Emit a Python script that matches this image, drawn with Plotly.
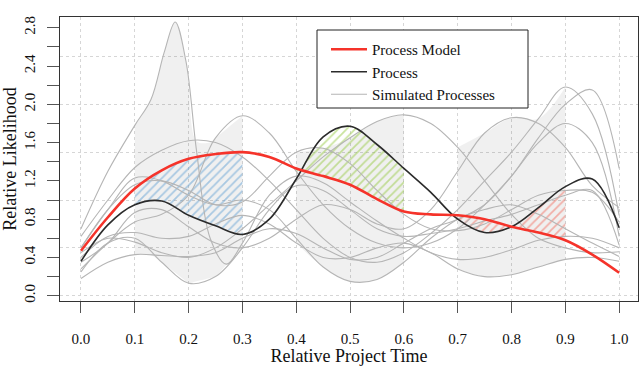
import numpy as np
import plotly.graph_objects as go

# ---------------- data ----------------
x_grid = [0.0, 0.05, 0.1, 0.15, 0.2, 0.25, 0.3, 0.35, 0.4, 0.45, 0.5,
          0.55, 0.6, 0.65, 0.7, 0.75, 0.8, 0.85, 0.9, 0.95, 1.0]

process_model = [0.47, 0.82, 1.12, 1.31, 1.43, 1.48, 1.50, 1.45, 1.33, 1.25, 1.16,
                 1.01, 0.88, 0.85, 0.84, 0.80, 0.72, 0.66, 0.58, 0.43, 0.24]
process = [0.36, 0.74, 0.95, 0.99, 0.84, 0.73, 0.64, 0.80, 1.22, 1.66, 1.77,
           1.58, 1.33, 1.08, 0.80, 0.66, 0.72, 0.92, 1.14, 1.22, 0.71]

# simulated process with the sharp spike (own knots)
spike_x = [0.0, 0.05, 0.1, 0.13, 0.155, 0.175, 0.195, 0.215, 0.24, 0.27, 0.3,
           0.35, 0.4, 0.45, 0.5, 0.55, 0.6, 0.65, 0.7, 0.75, 0.8, 0.85, 0.9, 0.95, 1.0]
spike_y = [0.70, 1.30, 1.78, 2.05, 2.55, 2.86, 2.45, 1.50, 0.60, 0.33, 0.55,
           1.05, 1.25, 1.18, 0.98, 0.78, 0.60, 0.45, 0.38, 0.40, 0.48, 0.58, 0.62, 0.60, 0.50]

sim_a = [0.62, 1.00, 1.34, 1.52, 1.62, 1.60, 1.45, 1.20, 0.90, 0.60, 0.40,
         0.35, 0.45, 0.65, 0.90, 1.20, 1.50, 1.85, 2.18, 1.90, 0.84]
sim_b = [0.28, 0.55, 0.77, 0.85, 1.05, 1.65, 1.88, 1.70, 1.30, 0.95, 0.70,
         0.55, 0.50, 0.55, 0.70, 0.95, 1.25, 1.60, 1.80, 1.60, 0.62]
sim_c = [0.50, 0.90, 1.16, 1.20, 1.10, 0.95, 0.98, 1.25, 1.50, 1.54, 1.38,
         1.10, 0.85, 0.70, 0.68, 0.75, 0.90, 1.05, 1.10, 1.08, 0.77]
sim_d = [0.45, 0.60, 0.56, 0.45, 0.40, 0.50, 0.70, 0.95, 1.20, 1.45, 1.65,
         1.82, 1.89, 1.80, 1.55, 1.20, 0.85, 0.60, 0.50, 0.45, 0.46]
sim_e = [0.18, 0.35, 0.43, 0.42, 0.41, 0.45, 0.60, 0.70, 0.65, 0.50, 0.38,
         0.40, 0.55, 0.70, 0.80, 0.95, 1.25, 1.65, 2.00, 2.15, 1.33]
sim_f = [0.35, 0.55, 0.87, 0.90, 0.72, 0.55, 0.50, 0.60, 0.80, 0.95, 0.90,
         0.75, 0.70, 0.90, 1.30, 1.70, 1.86, 1.80, 1.55, 1.15, 0.92]
sim_g = [0.25, 0.55, 0.60, 0.35, 0.13, 0.20, 0.50, 0.90, 1.15, 1.10, 0.90,
         0.70, 0.62, 0.65, 0.70, 0.78, 0.85, 0.95, 1.05, 1.10, 0.53]
sim_h = [0.50, 0.90, 1.23, 1.20, 1.05, 0.95, 1.00, 0.90, 0.60, 0.30, 0.15,
         0.17, 0.35, 0.60, 0.80, 0.90, 0.95, 0.85, 0.70, 0.55, 0.41]
sim_i = [0.40, 0.62, 0.66, 0.60, 0.62, 0.75, 0.84, 0.75, 0.55, 0.40, 0.40,
         0.50, 0.55, 0.45, 0.28, 0.20, 0.22, 0.30, 0.38, 0.40, 0.36]

simulated = [sim_a, sim_b, sim_c, sim_d, sim_e, sim_f, sim_g, sim_h, sim_i]

intervals = [(0.1, 0.3), (0.4, 0.6), (0.7, 0.9)]
hatch_colors = ["#5f9fd3", "#93c83c", "#f26a5c"]

x_ticks = [0.0, 0.1, 0.2, 0.3, 0.4, 0.5, 0.6, 0.7, 0.8, 0.9, 1.0]
y_ticks = [0.0, 0.4, 0.8, 1.2, 1.6, 2.0, 2.4, 2.8]
y_minor = [0.2, 0.6, 1.0, 1.4, 1.8, 2.2, 2.6]
y_grid = [0.0, 0.5, 1.0, 1.5, 2.0, 2.5]

# ---------------- figure ----------------
FONT = "Liberation Serif"
GRAY = "#b5b5b5"
fig = go.Figure()

xg = np.array(x_grid)
all_curves = [(np.array(spike_x), np.array(spike_y))] + [(xg, np.array(s)) for s in simulated]

# grey envelope bands of the simulated processes
for a, b in intervals:
    knots = set(x for x in x_grid if a - 1e-9 <= x <= b + 1e-9)
    knots |= set(x for x in spike_x if a - 1e-9 <= x <= b + 1e-9)
    bx = np.array(sorted(knots))
    vals = np.array([np.interp(bx, cx, cy) for cx, cy in all_curves])
    lo, hi = vals.min(axis=0), vals.max(axis=0)
    fig.add_trace(go.Scatter(x=bx, y=lo, mode="lines", line=dict(width=0, shape="spline"),
                             showlegend=False, hoverinfo="skip"))
    fig.add_trace(go.Scatter(x=bx, y=hi, mode="lines", line=dict(width=0, shape="spline"),
                             fill="tonexty", fillcolor="rgba(0,0,0,0.06)",
                             showlegend=False, hoverinfo="skip"))

# hatched areas between model and process
pm = np.array(process_model)
pr = np.array(process)
for (a, b), col in zip(intervals, hatch_colors):
    m = (xg >= a - 1e-9) & (xg <= b + 1e-9)
    fig.add_trace(go.Scatter(x=xg[m], y=pr[m], mode="lines", line=dict(width=0, shape="spline"),
                             showlegend=False, hoverinfo="skip"))
    fig.add_trace(go.Scatter(x=xg[m], y=pm[m], mode="lines", line=dict(width=0, shape="spline"),
                             fill="tonexty", fillcolor="rgba(0,0,0,0)",
                             fillpattern=dict(shape="/", fgcolor=col, bgcolor="rgba(0,0,0,0)",
                                              size=6, solidity=0.3, fillmode="overlay"),
                             showlegend=False, hoverinfo="skip"))

# simulated processes
for i, (cx, cy) in enumerate(all_curves):
    fig.add_trace(go.Scatter(x=cx, y=cy, mode="lines",
                             line=dict(color=GRAY, width=1.1, shape="spline"),
                             name="Simulated Processes", legendrank=3,
                             showlegend=(i == 0), hoverinfo="skip"))

fig.add_trace(go.Scatter(x=x_grid, y=process, mode="lines",
                         line=dict(color="#2b2b2b", width=1.6, shape="spline"),
                         name="Process", legendrank=2))
fig.add_trace(go.Scatter(x=x_grid, y=process_model, mode="lines",
                         line=dict(color="#f5332a", width=2.6, shape="spline"),
                         name="Process Model", legendrank=1))

# grid-only overlay axis for horizontal dashed lines
fig.add_trace(go.Scatter(x=[None], y=[None], yaxis="y2", showlegend=False, hoverinfo="skip"))

# legend frame (drawn as a shape so it can be wider than plotly's own box)
PL, PR, PT, PB = 60, 638, 17, 301


def px2paper_x(px):
    return (px - PL) / (PR - PL)


def px2paper_y(py):
    return (PB - py) / (PB - PT)


fig.add_shape(type="rect", xref="paper", yref="paper",
              x0=px2paper_x(317), x1=px2paper_x(528),
              y0=px2paper_y(108), y1=px2paper_y(30),
              line=dict(color="#222", width=1), fillcolor="white", layer="above")

yr = [-0.055, 2.912]
fig.update_layout(
    width=640, height=366,
    margin=dict(l=PL, r=640 - PR, t=PT, b=366 - PB, autoexpand=False),
    paper_bgcolor="white", plot_bgcolor="white",
    font=dict(family=FONT, size=15, color="#111"),
    showlegend=True,
    legend=dict(x=px2paper_x(326), y=px2paper_y(33), xanchor="left", yanchor="top",
                bgcolor="rgba(0,0,0,0)", borderwidth=0,
                font=dict(family=FONT, size=15), itemwidth=36,
                traceorder="normal", tracegroupgap=0),
    xaxis=dict(range=[-0.039, 1.035], tickvals=x_ticks,
               ticktext=[f"{v:.1f}" for v in x_ticks], automargin=False,
               showline=True, mirror=True, linecolor="#333", linewidth=1,
               ticks="outside", ticklen=11, tickcolor="#555", ticklabelstandoff=13,
               showgrid=True, gridcolor="#d6d6d6", griddash="3px,3px", gridwidth=1,
               zeroline=False,
               title=dict(text="Relative Project Time", standoff=6)),
    yaxis=dict(range=yr, tickvals=y_ticks, ticktext=[f"{v:.1f}" for v in y_ticks],
               tickangle=-90, automargin=False,
               showline=True, mirror=True, linecolor="#333", linewidth=1,
               ticks="outside", ticklen=12, tickcolor="#555", ticklabelstandoff=6,
               minor=dict(tickvals=y_minor, ticks="outside", ticklen=12,
                          tickcolor="#555", showgrid=False),
               showgrid=False, zeroline=False,
               title=dict(text="Relative Likelihood", standoff=4)),
    yaxis2=dict(range=yr, overlaying="y", tickvals=y_grid, showticklabels=False,
                ticks="", showline=False, zeroline=False, automargin=False,
                showgrid=True, gridcolor="#d6d6d6", griddash="3px,3px", gridwidth=1),
)

fig.write_html("out.html", config={"displayModeBar": False},
               post_script="document.body.style.margin='0';document.body.style.overflow='hidden';")
